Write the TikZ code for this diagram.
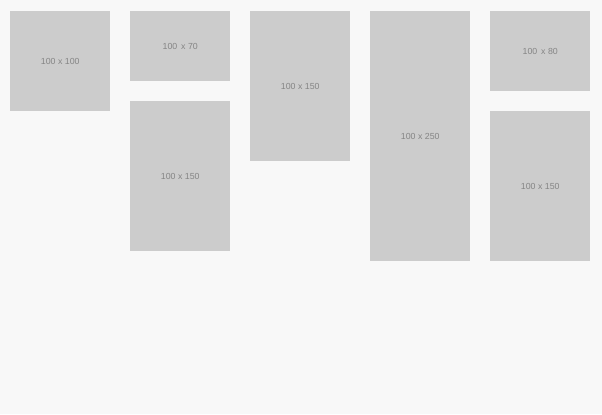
\documentclass[tikz,border=0pt]{standalone}
\usepackage{fontspec}
\setmainfont{Liberation Sans}
\usepackage{xcolor}
\usepackage{tikz}
\usetikzlibrary{positioning}

\definecolor{pagebg}{HTML}{F8F8F8}
\definecolor{tilegray}{HTML}{CCCCCC}
\definecolor{labelgray}{HTML}{858585}

\tikzset{
  tile/.style={fill=tilegray, draw=none, anchor=north west, inner sep=0pt,
    minimum width=75pt, text=labelgray, font=\fontsize{6.6}{7}\selectfont},
}

\begin{document}
\begin{tikzpicture}[x=0.75pt, y=-0.75pt]
  % Page
  \fill[pagebg] (0,0) rectangle (602,414);
  \useasboundingbox (0,0) rectangle (602,414);

  % Column 1
  \node[tile, minimum height=75pt] (t1) at (10,11) {100 x 100};

  % Column 2
  \node[tile, minimum height=52.5pt] (t2) at (130,11) {100\,  x 70};
  \node[tile, minimum height=112.5pt] (t3) at (130,101) {100 x 150};

  % Column 3
  \node[tile, minimum height=112.5pt] (t4) at (250,11) {100 x 150};

  % Column 4
  \node[tile, minimum height=187.5pt] (t5) at (370,11) {100 x 250};

  % Column 5
  \node[tile, minimum height=60pt] (t6) at (490,11) {100\,  x 80};
  \node[tile, minimum height=112.5pt] (t7) at (490,111) {100 x 150};
\end{tikzpicture}
\end{document}
